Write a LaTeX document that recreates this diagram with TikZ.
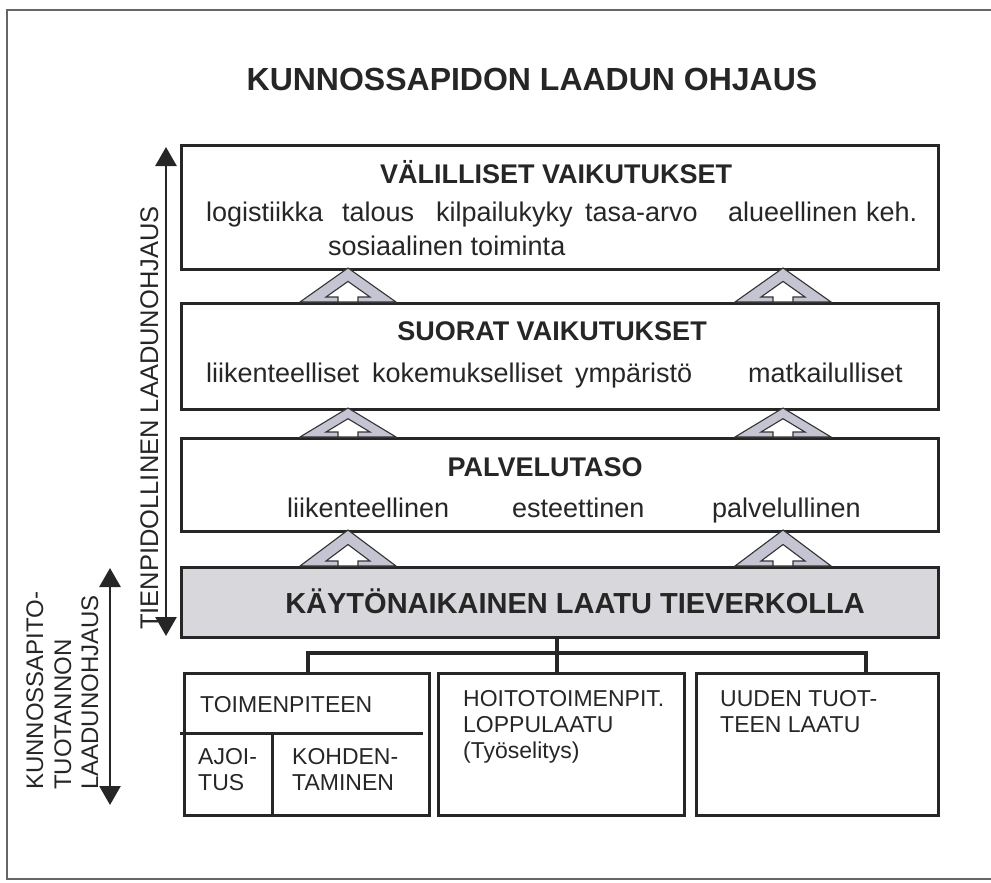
\documentclass[tikz,border=0pt]{standalone}
\usepackage{fontspec}
\setmainfont{Liberation Sans}
\usetikzlibrary{arrows.meta,calc}
\newcommand\uparr[3]{%
  \pgfmathsetmacro\hh{#3-#2}%
  \filldraw[fill=arrgray, draw=black!80, line width=1.1pt] (#1-48,#3) -- (#1,#2) -- (#1+48,#3) -- cycle;
  \filldraw[fill=white, draw=black!80, line width=1.1pt] (#1-10,#3) -- (#1-10,#3-5) -- (#1-22,#3-5) -- (#1,{#3-5-22*\hh/48}) -- (#1+22,#3-5) -- (#1+10,#3-5) -- (#1+10,#3) -- cycle;
}
\definecolor{arrgray}{RGB}{196,196,210}
\definecolor{boxgray}{RGB}{216,216,220}
\begin{document}
\begin{tikzpicture}[x=1pt,y=-1pt,
  box/.style={draw=black!85, line width=3.2pt, inner sep=0pt, anchor=north west},
  conn/.style={draw=black!85, line width=3.8pt},
  lbl/.style={inner sep=0pt, anchor=base west},
  head/.style={inner sep=0pt, anchor=base, font=\bfseries\fontsize{27}{32}\selectfont, text=black!85},
  body/.style={lbl, font=\fontsize{27}{32}\selectfont, text=black!85},
  small/.style={lbl, align=left, font=\fontsize{23}{26}\selectfont, text=black!85},
  rot/.style={inner sep=0pt, rotate=90, font=\fontsize{24}{28}\selectfont, text=black!85},
  dbl/.style={draw=black!85, line width=2.8pt, {Triangle[width=21pt,length=19pt]}-{Triangle[width=21pt,length=19pt]}}]
\useasboundingbox (0,0) rectangle (991,883);
% outer frame
\draw[black!60, line width=2pt] (1000,10) -- (7,10) -- (7,879) -- (1000,879);
% title
\node[inner sep=0pt, anchor=base, font=\bfseries\fontsize{32}{36}\selectfont, text=black!85] (title) at (532,91) {KUNNOSSAPIDON LAADUN OHJAUS};
% boxes
\node[box, minimum width=757pt, minimum height=124pt] (b1) at (180,144) {};
\node[box, minimum width=757pt, minimum height=106pt] (b2) at (180,302) {};
\node[box, minimum width=757pt, minimum height=93pt] (b3) at (180,437) {};
\node[box, fill=boxgray, minimum width=757pt, minimum height=70pt] (b4) at (180,566) {};
\node[box, minimum width=245pt, minimum height=142pt] (b5) at (183,672) {};
\node[box, minimum width=246pt, minimum height=142pt] (b6) at (437,672) {};
\node[box, minimum width=242pt, minimum height=142pt] (b7) at (695,672) {};
% block arrows
\uparr{348}{268}{302}
\uparr{783}{268}{302}
\uparr{348}{408}{437}
\uparr{783}{408}{437}
\uparr{348}{530}{566}
\uparr{783}{530}{566}
% box 1
\node[head] (h1) at (556,183) {VÄLILLISET VAIKUTUKSET};
\node[body] (w11) at (206,221) {logistiikka};
\node[body] (w12) at (342,221) {talous};
\node[body] (w13) at (436,221) {kilpailukyky};
\node[body] (w14) at (585,221) {tasa-arvo};
\node[body] (w15) at (728,221) {alueellinen};
\node[body] (w16) at (866,221) {keh.};
\node[body] (w17) at (328,255) {sosiaalinen toiminta};
% box 2
\node[head] (h2) at (552,340) {SUORAT VAIKUTUKSET};
\node[body] (w21) at (206,382) {liikenteelliset};
\node[body] (w22) at (372,382) {kokemukselliset};
\node[body] (w23) at (575,382) {ympäristö};
\node[body] (w24) at (748,382) {matkailulliset};
% box 3
\node[head] (h3) at (545,476) {PALVELUTASO};
\node[body] (w31) at (287,517) {liikenteellinen};
\node[body] (w32) at (512,517) {esteettinen};
\node[body] (w33) at (712,517) {palvelullinen};
% box 4
\node[head, font=\bfseries\fontsize{29}{34}\selectfont] (h4) at (575,613) {KÄYTÖNAIKAINEN LAATU TIEVERKOLLA};
% connectors
\coordinate (jx) at (557,0);
\draw[conn] (b4.south -| jx) -- (b6.north -| jx);
\draw[conn] ($(b5.north west)+(125,0)$) -- ++(0,-19) -| ($(b7.north west)+(171,0)$);
% box 5 dividers
\coordinate (d1) at (180,733);
\coordinate (d2) at (423,733);
\coordinate (d3) at (272,733);
\draw[conn, line width=3pt] (d1) -- (d2);
\draw[conn, line width=3pt] (d3) -- (d3 |- b5.south);
% bottom texts
\node[small] (t1) at (200,712) {TOIMENPITEEN};
\node[small] (t2) at (198,790) {AJOI-\\TUS};
\node[small] (t3) at (292,790) {KOHDEN-\\TAMINEN};
\node[small] (t4) at (463,758) {HOITOTOIMENPIT.\\LOPPULAATU\\(Työselitys)};
\node[small] (t5) at (720,732) {UUDEN TUOT-\\TEEN LAATU};
% side arrows and labels
\coordinate (ta) at (166,147);
\coordinate (tb) at (166,636);
\draw[dbl] (ta) -- (tb);
\node[rot, anchor=base, font=\fontsize{25.5}{30}\selectfont] (tien) at (158,418) {TIENPIDOLLINEN LAADUNOHJAUS};
\coordinate (ka) at (110,568);
\coordinate (kb) at (110,805);
\draw[dbl] (ka) -- (kb);
\node[rot, anchor=base west] (k1) at (43,790) {KUNNOSSAPITO-};
\node[rot, anchor=base west] (k2) at (71,790) {TUOTANNON};
\node[rot, anchor=base west] (k3) at (98,790) {LAADUNOHJAUS};
\end{tikzpicture}
\end{document}
